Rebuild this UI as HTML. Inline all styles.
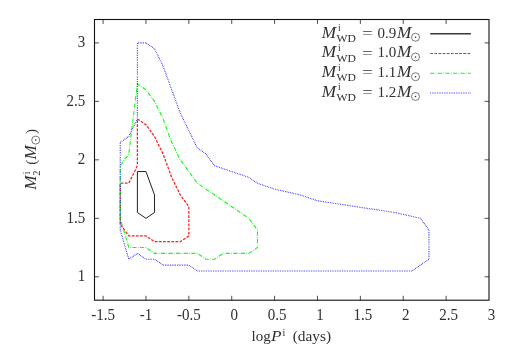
<!DOCTYPE html>
<html><head><meta charset="utf-8"><title>plot</title>
<style>
html,body{margin:0;padding:0;background:#fff;}
body{width:518px;height:350px;overflow:hidden;}
svg{display:block;will-change:transform;}
text{font-family:"Liberation Serif",serif;fill:#303030;}
.it{font-style:italic;}
</style></head><body>
<svg width="518" height="350" viewBox="0 0 518 350">
<rect x="0" y="0" width="518" height="350" fill="#ffffff"/>

<path d="M103.08 300.20 V295.80 M103.08 19.50 V23.90 M145.96 300.20 V295.80 M145.96 19.50 V23.90 M188.84 300.20 V295.80 M188.84 19.50 V23.90 M231.72 300.20 V295.80 M231.72 19.50 V23.90 M274.60 300.20 V295.80 M274.60 19.50 V23.90 M317.48 300.20 V295.80 M317.48 19.50 V23.90 M360.36 300.20 V295.80 M360.36 19.50 V23.90 M403.24 300.20 V295.80 M403.24 19.50 V23.90 M446.12 300.20 V295.80 M446.12 19.50 V23.90 M94.50 276.81 H98.90 M489.00 276.81 H484.60 M94.50 218.33 H98.90 M489.00 218.33 H484.60 M94.50 159.85 H98.90 M489.00 159.85 H484.60 M94.50 101.37 H98.90 M489.00 101.37 H484.60 M94.50 42.89 H98.90 M489.00 42.89 H484.60" stroke="#111" stroke-width="0.75" fill="none"/>
<path d="M137.38 171.55 L145.96 171.55 L154.53 194.94 L154.53 212.48 L145.96 218.33 L137.38 212.48 L137.38 171.55" fill="none" stroke="#222" stroke-width="1.0"/>
<path d="M120.23 224.18 L120.23 183.24 L128.80 183.24 L137.38 165.70 L137.38 118.91 L145.96 124.76 L154.53 136.46 L163.11 154.00 L171.68 177.39 L180.26 194.94 L188.84 206.63 L188.84 235.87 L180.26 241.72 L154.53 241.72 L145.96 235.87 L128.80 235.87 L120.23 224.18" fill="none" stroke="#ff1c1c" stroke-width="1.25" stroke-dasharray="2.76,1.38"/>
<path d="M120.23 218.33 L120.23 165.70 L128.80 154.00 L137.38 83.83 L145.96 89.68 L154.53 101.37 L163.11 118.91 L171.68 142.31 L180.26 159.85 L197.41 183.24 L248.87 218.33 L257.45 230.03 L257.45 247.57 L248.87 253.42 L223.14 253.42 L214.57 259.26 L205.99 259.26 L197.41 253.42 L154.53 253.42 L145.96 247.57 L128.80 247.57 L120.23 218.33" fill="none" stroke="#0cff0c" stroke-width="1.1" stroke-dasharray="4.14,1.38,0.69,1.38"/>
<path d="M120.23 230.03 L120.23 142.31 L128.80 136.46 L137.38 118.91 L137.38 42.89 L145.96 42.89 L154.53 48.74 L163.11 66.28 L171.68 89.68 L180.26 113.07 L188.84 130.61 L197.41 148.15 L205.99 154.00 L214.57 165.70 L248.87 177.39 L257.45 183.24 L274.60 189.09 L300.33 194.94 L317.48 200.79 L394.66 212.48 L420.39 218.33 L428.97 230.03 L428.97 259.26 L411.82 270.96 L197.41 270.96 L188.84 265.11 L163.11 265.11 L154.53 259.26 L145.96 259.26 L137.38 253.42 L128.80 259.26 L120.23 230.03" fill="none" stroke="#1010ff" stroke-width="1.1" stroke-dasharray="0.69,1.03"/>
<rect x="94.50" y="19.50" width="394.50" height="280.70" fill="none" stroke="#111" stroke-width="1.1"/>
<text x="103.08" y="319.6" font-size="15.8" text-anchor="middle" textLength="23.75" lengthAdjust="spacingAndGlyphs">-1.5</text>
<text x="145.96" y="319.6" font-size="15.8" text-anchor="middle" textLength="12.49" lengthAdjust="spacingAndGlyphs">-1</text>
<text x="188.84" y="319.6" font-size="15.8" text-anchor="middle" textLength="23.75" lengthAdjust="spacingAndGlyphs">-0.5</text>
<text x="234.17" y="319.6" font-size="15.8" text-anchor="middle" textLength="7.50" lengthAdjust="spacingAndGlyphs">0</text>
<text x="277.05" y="319.6" font-size="15.8" text-anchor="middle" textLength="18.75" lengthAdjust="spacingAndGlyphs">0.5</text>
<text x="319.93" y="319.6" font-size="15.8" text-anchor="middle" textLength="7.50" lengthAdjust="spacingAndGlyphs">1</text>
<text x="362.81" y="319.6" font-size="15.8" text-anchor="middle" textLength="18.75" lengthAdjust="spacingAndGlyphs">1.5</text>
<text x="405.69" y="319.6" font-size="15.8" text-anchor="middle" textLength="7.50" lengthAdjust="spacingAndGlyphs">2</text>
<text x="448.57" y="319.6" font-size="15.8" text-anchor="middle" textLength="18.75" lengthAdjust="spacingAndGlyphs">2.5</text>
<text x="491.45" y="319.6" font-size="15.8" text-anchor="middle" textLength="7.50" lengthAdjust="spacingAndGlyphs">3</text>
<text x="85.2" y="281.21" font-size="15.8" text-anchor="end" textLength="7.50" lengthAdjust="spacingAndGlyphs">1</text>
<text x="85.2" y="222.73" font-size="15.8" text-anchor="end" textLength="18.75" lengthAdjust="spacingAndGlyphs">1.5</text>
<text x="85.2" y="164.25" font-size="15.8" text-anchor="end" textLength="7.50" lengthAdjust="spacingAndGlyphs">2</text>
<text x="85.2" y="105.77" font-size="15.8" text-anchor="end" textLength="18.75" lengthAdjust="spacingAndGlyphs">2.5</text>
<text x="85.2" y="47.29" font-size="15.8" text-anchor="end" textLength="7.50" lengthAdjust="spacingAndGlyphs">3</text>
<text x="251.5" y="341.4" font-size="15">log</text>
<text x="271.0" y="341.4" font-size="15.5" class="it" textLength="10.6" lengthAdjust="spacingAndGlyphs">P</text>
<text x="282.6" y="335.8" font-size="10">i</text>
<text x="292.7" y="341.4" font-size="15" textLength="38.4" lengthAdjust="spacingAndGlyphs">(days)</text>
<g transform="translate(35.7,188.8) rotate(-90)">
<text x="-0.9" y="0" font-size="16" class="it" textLength="14.3" lengthAdjust="spacingAndGlyphs">M</text>
<text x="14.5" y="-5.8" font-size="9.5">i</text>
<text x="13.1" y="4.6" font-size="10.5">2</text>
<text x="24.0" y="0" font-size="15">(</text>
<text x="29.3" y="0" font-size="16" class="it" textLength="14.3" lengthAdjust="spacingAndGlyphs">M</text>
<circle cx="48.70" cy="0.00" r="4.00" fill="none" stroke="#333" stroke-width="0.65"/><circle cx="48.70" cy="0.00" r="0.8" fill="#333"/>
<text x="54.8" y="0" font-size="15">)</text>
</g>
<text x="321.8" y="37.60" font-size="16" class="it" textLength="14.3" lengthAdjust="spacingAndGlyphs">M</text>
<text x="338.0" y="31.10" font-size="9.5">i</text>
<text x="336.6" y="41.90" font-size="10.5" textLength="19.4" lengthAdjust="spacingAndGlyphs">WD</text>
<text x="362.3" y="38.00" font-size="15.5" textLength="10.4" lengthAdjust="spacingAndGlyphs">=</text>
<text x="377.4" y="37.60" font-size="15">0.9</text>
<text x="396.9" y="37.60" font-size="16" class="it" textLength="14.3" lengthAdjust="spacingAndGlyphs">M</text>
<circle cx="415.50" cy="37.25" r="4.00" fill="none" stroke="#333" stroke-width="0.65"/><circle cx="415.50" cy="37.25" r="0.8" fill="#333"/>
<path d="M430.2 33.75 H470.9" stroke="#3a3a3a" stroke-width="1.3" fill="none"/>
<text x="321.8" y="57.33" font-size="16" class="it" textLength="14.3" lengthAdjust="spacingAndGlyphs">M</text>
<text x="338.0" y="50.83" font-size="9.5">i</text>
<text x="336.6" y="61.63" font-size="10.5" textLength="19.4" lengthAdjust="spacingAndGlyphs">WD</text>
<text x="362.3" y="57.73" font-size="15.5" textLength="10.4" lengthAdjust="spacingAndGlyphs">=</text>
<text x="377.4" y="57.33" font-size="15">1.0</text>
<text x="396.9" y="57.33" font-size="16" class="it" textLength="14.3" lengthAdjust="spacingAndGlyphs">M</text>
<circle cx="415.50" cy="56.98" r="4.00" fill="none" stroke="#333" stroke-width="0.65"/><circle cx="415.50" cy="56.98" r="0.8" fill="#333"/>
<path d="M430.2 53.48 H470.9" stroke="#ff1c1c" stroke-width="1.05" fill="none" stroke-dasharray="2.76,1.38"/>
<text x="321.8" y="77.06" font-size="16" class="it" textLength="14.3" lengthAdjust="spacingAndGlyphs">M</text>
<text x="338.0" y="70.56" font-size="9.5">i</text>
<text x="336.6" y="81.36" font-size="10.5" textLength="19.4" lengthAdjust="spacingAndGlyphs">WD</text>
<text x="362.3" y="77.46" font-size="15.5" textLength="10.4" lengthAdjust="spacingAndGlyphs">=</text>
<text x="377.4" y="77.06" font-size="15">1.1</text>
<text x="396.9" y="77.06" font-size="16" class="it" textLength="14.3" lengthAdjust="spacingAndGlyphs">M</text>
<circle cx="415.50" cy="76.71" r="4.00" fill="none" stroke="#333" stroke-width="0.65"/><circle cx="415.50" cy="76.71" r="0.8" fill="#333"/>
<path d="M430.2 73.21 H470.9" stroke="#0cff0c" stroke-width="1.05" fill="none" stroke-dasharray="4.14,1.38,0.69,1.38"/>
<text x="321.8" y="96.79" font-size="16" class="it" textLength="14.3" lengthAdjust="spacingAndGlyphs">M</text>
<text x="338.0" y="90.29" font-size="9.5">i</text>
<text x="336.6" y="101.09" font-size="10.5" textLength="19.4" lengthAdjust="spacingAndGlyphs">WD</text>
<text x="362.3" y="97.19" font-size="15.5" textLength="10.4" lengthAdjust="spacingAndGlyphs">=</text>
<text x="377.4" y="96.79" font-size="15">1.2</text>
<text x="396.9" y="96.79" font-size="16" class="it" textLength="14.3" lengthAdjust="spacingAndGlyphs">M</text>
<circle cx="415.50" cy="96.44" r="4.00" fill="none" stroke="#333" stroke-width="0.65"/><circle cx="415.50" cy="96.44" r="0.8" fill="#333"/>
<path d="M430.2 92.94 H470.9" stroke="#1010ff" stroke-width="1.1" fill="none" stroke-dasharray="0.69,1.03"/>
</svg></body></html>
